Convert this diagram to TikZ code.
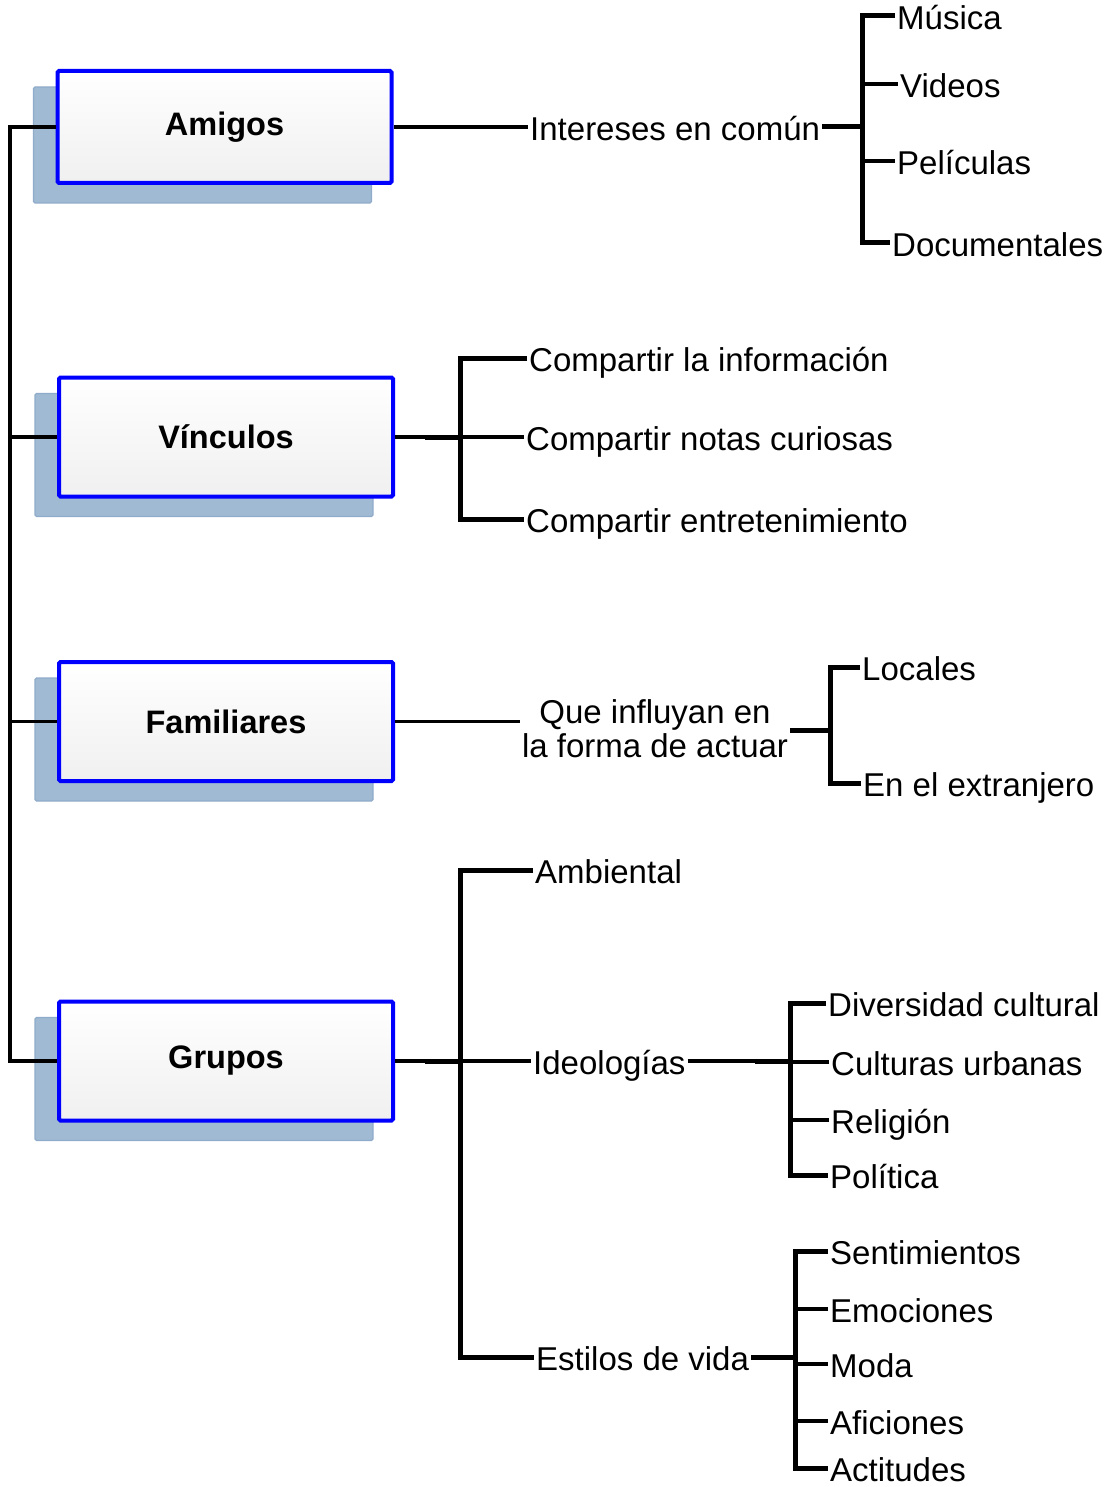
\documentclass[tikz,border=0pt]{standalone}
\usepackage{fontspec}
\setmainfont{Liberation Sans}
\usetikzlibrary{backgrounds,calc}
\definecolor{shadowc}{RGB}{160,186,211}
\definecolor{shadowb}{RGB}{143,171,201}
\definecolor{boxblue}{RGB}{0,0,255}
\begin{document}
\begin{tikzpicture}[x=1pt,y=-1pt,
  txt/.style={font=\fontsize{33}{34}\selectfont},
  catbox/.style={draw=boxblue, line width=4pt, top color=white, bottom color=black!6,
     rounded corners=1.5pt, minimum width=334pt, minimum height=119pt, inner sep=0pt,
     font=\fontsize{32.5}{34}\selectfont\bfseries},
  leaf/.style={txt, anchor=west, inner xsep=2pt, inner ysep=0pt, text height=27pt, text depth=0pt},
  shadowbox/.style={fill=shadowc, draw=shadowb, line width=1.2pt, rounded corners=1.5pt},
  conn/.style={line width=3.6pt},
  trunkline/.style={line width=4.6pt},
  spine/.style={line width=5pt},
  stub/.style={line width=5pt},
  tick/.style={line width=4pt}]
\useasboundingbox (0,0) rectangle (1109,1487);

% category boxes
\node[catbox, minimum height=112pt] (amigos) at (224.5,127) {Amigos};
\node[catbox] (vinculos) at (226,437) {Vínculos};
\node[catbox] (familiares) at (226,721.5) {Familiares};
\node[catbox] (grupos) at (226,1061) {Grupos};

\begin{scope}[on background layer]
  \foreach \n in {amigos,vinculos,familiares,grupos}
    \draw[shadowbox] ([shift={(-22,18)}]\n.south west) rectangle ([shift={(-22,18)}]\n.north east);
\end{scope}

% trunk
\coordinate (trunk) at (10,0);
\draw[trunkline] (amigos.west -| trunk) -- (grupos.west -| trunk);
\draw[conn] (amigos.west) -- ([xshift=-2pt]amigos.west -| trunk);
\draw[conn] (vinculos.west) -- ([xshift=-2pt]vinculos.west -| trunk);
\draw[conn] (familiares.west) -- ([xshift=-2pt]familiares.west -| trunk);
\draw[conn] (grupos.west) -- ([xshift=-2pt]grupos.west -| trunk);

% Amigos
\node[leaf] (intereses) at (528,127) {Intereses en común};
\node[leaf] (musica) at (895,16) {Música};
\node[leaf] (videos) at (898,84) {Videos};
\node[leaf] (peliculas) at (895,161) {Películas};
\node[leaf] (documentales) at (890,243) {Documentales};
\coordinate (b1) at (862,127);
\draw[conn] (amigos.east) -- (intereses.west);
\draw[stub] (intereses.east) -- (b1);
\draw[spine] (musica.west) -| (b1) |- (documentales.west);
\draw[tick] (videos.west) -- (videos.west -| b1);
\draw[tick] (peliculas.west) -- (peliculas.west -| b1);

% Vinculos
\coordinate (b2) at (460,437);
\node[leaf] (comp1) at (527,358) {Compartir la información};
\node[leaf] (comp2) at (524,437) {Compartir notas curiosas};
\node[leaf] (comp3) at (524,519) {Compartir entretenimiento};
\draw[conn] (vinculos.east) -- (b2);
\draw[stub] ($(b2)+(-35,0)$) -- (b2);
\draw[spine] (comp1.west) -| (b2) |- (comp3.west);
\draw[conn] (comp2.west) -- (b2);

% Familiares
\node[txt, align=center, inner sep=0pt] (que) at (655,729) {Que influyan en\\la forma de actuar};
\coordinate (fb) at (830,730);
\node[leaf] (locales) at (860,667) {Locales};
\node[leaf] (extranjero) at (861,783) {En el extranjero};
\draw[conn] (familiares.east) -- ([xshift=-2pt]familiares.east -| que.west);
\draw[stub] ([xshift=2pt]que.east |- fb) -- (fb);
\draw[spine] (locales.west) -| (fb) |- (extranjero.west);

% Grupos
\coordinate (b4) at (460,1061);
\node[leaf] (ambiental) at (533,870) {Ambiental};
\node[leaf] (ideologias) at (531,1061) {Ideologías};
\node[leaf] (estilos) at (534,1357) {Estilos de vida};
\draw[conn] (grupos.east) -- (b4);
\draw[stub] ($(b4)+(-35,0)$) -- (b4);
\draw[spine] (ambiental.west) -| (b4) |- (estilos.west);
\draw[conn] (ideologias.west) -- (b4);

% Ideologias
\coordinate (b5) at (790,1061);
\node[leaf] (div) at (826,1003) {Diversidad cultural};
\node[leaf] (cult) at (829,1062) {Culturas urbanas};
\node[leaf] (rel) at (829,1120) {Religión};
\node[leaf] (pol) at (828,1175) {Política};
\draw[conn] (ideologias.east) -- (b5);
\draw[stub] ($(b5)+(-35,0)$) -- (b5);
\draw[spine] (div.west) -| (b5) |- (pol.west);
\draw[tick] (cult.west) -- (cult.west -| b5);
\draw[tick] (rel.west) -- (rel.west -| b5);

% Estilos de vida
\coordinate (b6) at (795,1357);
\node[leaf] (sent) at (828,1251) {Sentimientos};
\node[leaf] (emo) at (828,1309) {Emociones};
\node[leaf] (moda) at (828,1364) {Moda};
\node[leaf] (afic) at (828,1421) {Aficiones};
\node[leaf] (act) at (828,1468) {Actitudes};
\draw[stub] (estilos.east) -- (b6);
\draw[spine] (sent.west) -| (b6) |- (act.west);
\draw[tick] (emo.west) -- (emo.west -| b6);
\draw[tick] (moda.west) -- (moda.west -| b6);
\draw[tick] (afic.west) -- (afic.west -| b6);
\end{tikzpicture}
\end{document}
